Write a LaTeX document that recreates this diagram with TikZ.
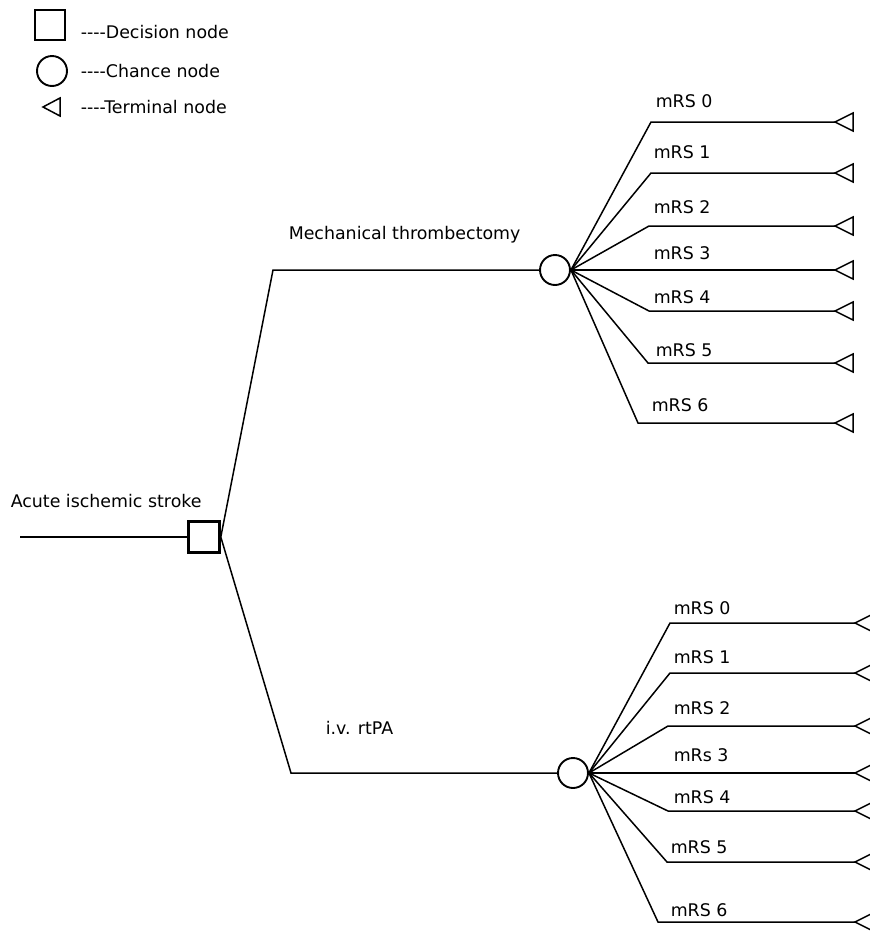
\documentclass[tikz,border=0pt]{standalone}
\usepackage{fontspec}
\setmainfont{DejaVu Sans}
\begin{document}
\begin{tikzpicture}[x=1pt,y=-1pt, line width=1.5pt,
  decision/.style={draw, rectangle, line width=2.6pt, minimum size=31pt, inner sep=0pt},
  chance/.style={draw, circle, line width=1.9pt, minimum size=30pt, inner sep=0pt},
  lbl/.style={font=\fontsize{17.4}{21}\selectfont, inner sep=0pt, anchor=base west},
  term/.style={line width=1.5pt, line join=miter},
  branch/.style={line width=1.5pt}]
\useasboundingbox (0,0) rectangle (870,935);

% legend
\node[decision, minimum size=30pt] (ld) at (50,25) {};
\node[lbl] (ldt) at (80,38) {-{}-{}-{}-Decision node};
\node[chance] (lc) at (52,71) {};
\node[lbl] (lct) at (80,77) {-{}-{}-{}-Chance node};
\coordinate (lt) at (43,107);
\draw[term] (lt) -- ++(17,-9) -- ++(0,18) -- cycle;
\node[lbl] (ltt) at (80,113) {-{}-{}-{}-Terminal node};

% root
\coordinate (start) at (20,537);
\node[decision] (dec) at (204,537) {};
\node[lbl] (root) at (10,507) {Acute ischemic stroke};
\draw[branch] (start) -- (dec.west);

% upper strategy
\coordinate (uk) at (273,270);
\node[chance] (cu) at (555,270) {};
\draw[branch] (dec.east) -- (uk) -- (cu.west);
\node[lbl] (ul) at (288,239) {Mechanical thrombectomy};

% lower strategy
\coordinate (lk) at (291,773);
\node[chance] (cl) at (573,773) {};
\draw[branch] (dec.east) -- (lk) -- (cl.west);
\node[lbl] (ll) at (325,734) {i.v. rtPA};

% upper outcomes
\foreach \i/\kx/\ky/\lx/\ly/\t in {
  0/651/122/655/107/mRS 0,
  1/651/173/653/158/mRS 1,
  2/649/226/653/213/mRS 2,
  3/649/270/653/259/mRS 3,
  4/649/311/653/303/mRS 4,
  5/648/363/655/356/mRS 5,
  6/638/423/651/411/mRS 6}{
  \coordinate (uk\i) at (\kx,\ky);
  \coordinate (ut\i) at (835,\ky);
  \draw[branch] (cu.east) -- (uk\i) -- (ut\i);
  \draw[term] (ut\i) -- ++(18,-9) -- ++(0,18) -- cycle;
  \node[lbl] (uo\i) at (\lx,\ly) {\t};
}

% lower outcomes
\foreach \i/\kx/\ky/\lx/\ly/\t in {
  0/670/623/673/614/mRS 0,
  1/670/673/673/663/mRS 1,
  2/668/726/673/714/mRS 2,
  3/668/773/673/761/mRs 3,
  4/668/811/673/803/mRS 4,
  5/667/862/670/853/mRS 5,
  6/658/922/670/916/mRS 6}{
  \coordinate (lk\i) at (\kx,\ky);
  \coordinate (lt\i) at (855,\ky);
  \draw[branch] (cl.east) -- (lk\i) -- (lt\i);
  \draw[term] (lt\i) -- ++(18,-9) -- ++(0,18) -- cycle;
  \node[lbl] (lo\i) at (\lx,\ly) {\t};
}
\end{tikzpicture}
\end{document}
